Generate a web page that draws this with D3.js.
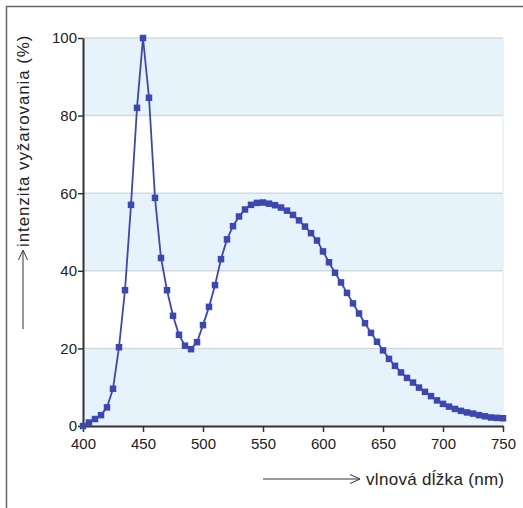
<!DOCTYPE html>
<html>
<head>
<meta charset="utf-8">
<script src="https://cdn.jsdelivr.net/npm/d3@7"></script>
<style>
  body { margin: 0; background: #fff; }
  text { font-family: "Liberation Sans", Arial, sans-serif; }
</style>
</head>
<body>
<div id="chart"></div>
<script>
// wavelength (nm) and relative intensity (%)
const wavelengths = d3.range(400, 751, 5);
const intensity = [
  0, 0.9, 1.8, 2.8, 4.8, 9.6, 20.3, 35, 57, 82,
  100, 84.6, 58.8, 43.3, 35, 28.4, 23.5, 20.7, 19.8, 21.6,
  26, 30.7, 36.3, 43, 48.1, 51.5, 54, 55.8, 57, 57.5,
  57.6, 57.3, 56.9, 56.3, 55.5, 54.4, 53, 51.4, 49.7, 47.8,
  45, 42.2, 39.5, 37, 34.3, 31.6, 29, 26.5, 24, 21.7,
  19.5, 17.3, 15.5, 13.8, 12.4, 11.2, 9.9, 8.8, 7.7, 6.6,
  5.7, 5.0, 4.4, 3.9, 3.5, 3.2, 2.8, 2.5, 2.2, 2.1, 2.0
];
const xTicks = [400, 450, 500, 550, 600, 650, 700, 750];
const yTicks = [0, 20, 40, 60, 80, 100];
const bands = [[0, 20], [40, 60], [80, 100]];

const data = wavelengths.map((w, i) => ({w: w, v: intensity[i]}));

const W = 523, H = 508;
const margin = {top: 38, right: 20, bottom: 82, left: 83};
const width = 503 - margin.left, height = 426 - margin.top;

const root = d3.select("#chart").append("svg")
  .attr("width", W).attr("height", H);

// frame (left and top edges)
root.append("path")
  .attr("d", `M6.5,${H} L6.5,6.5 L${W},6.5`)
  .attr("fill", "none").attr("stroke", "#666").attr("stroke-width", 1.5);

const svg = root.append("g")
  .attr("transform", `translate(${margin.left},${margin.top})`);

const x = d3.scaleLinear().domain([400, 750]).range([0, width]);
const y = d3.scaleLinear().domain([0, 100]).range([height, 0]);

// background bands
svg.selectAll(".band")
  .data(bands)
  .join("rect")
    .attr("x", 0)
    .attr("width", width)
    .attr("y", d => y(d[1]))
    .attr("height", d => y(d[0]) - y(d[1]))
    .attr("fill", "#e6f3fa");

// gridlines
svg.selectAll(".grid")
  .data(yTicks.filter(d => d > 0))
  .join("line")
    .attr("x1", 0).attr("x2", width)
    .attr("y1", d => y(d)).attr("y2", d => y(d))
    .attr("stroke", "#d3d9de").attr("stroke-width", 1.5);

// right edge of bands
svg.append("line")
  .attr("x1", width).attr("x2", width)
  .attr("y1", 0).attr("y2", height)
  .attr("stroke", "#e3e8ec").attr("stroke-width", 1);

// axes
const xAxis = svg.append("g")
  .attr("transform", `translate(0,${height})`)
  .call(d3.axisBottom(x).tickValues(xTicks).tickSize(6).tickSizeOuter(0));
const yAxis = svg.append("g")
  .call(d3.axisLeft(y).tickValues(yTicks).tickSize(5).tickSizeOuter(0));

[xAxis, yAxis].forEach(a => {
  a.select(".domain").attr("stroke", "#333").attr("stroke-width", 2);
  a.selectAll(".tick line").attr("stroke", "#333").attr("stroke-width", 1.5);
  a.selectAll(".tick text").attr("font-size", 15).attr("fill", "#222")
    .attr("font-family", "Liberation Sans, Arial, sans-serif");
});
xAxis.selectAll(".tick text").attr("dy", "0.9em");
yAxis.selectAll(".tick text").attr("x", -6);

// line
svg.append("path")
  .datum(data)
  .attr("fill", "none")
  .attr("stroke", "#3d47ad")
  .attr("stroke-width", 1.8)
  .attr("d", d3.line().x(d => x(d.w)).y(d => y(d.v)));

// square markers
const s = 6.5;
svg.selectAll(".pt")
  .data(data)
  .join("rect")
    .attr("x", d => x(d.w) - s / 2)
    .attr("y", d => y(d.v) - s / 2)
    .attr("width", s).attr("height", s)
    .attr("fill", "#3d47b0");

// axis titles with arrows
const arrow = (g, x1, y1, x2, y2) => {
  g.append("line")
    .attr("x1", x1).attr("y1", y1).attr("x2", x2).attr("y2", y2)
    .attr("stroke", "#333").attr("stroke-width", 1);
};

// x title
arrow(root, 263, 479, 359, 479);
root.append("path")
  .attr("d", "M350,474.5 L360,479 L350,483.5")
  .attr("fill", "none").attr("stroke", "#333").attr("stroke-width", 1);
root.append("text")
  .attr("x", 366).attr("y", 485)
  .attr("font-size", 17).attr("fill", "#222")
  .attr("letter-spacing", 0.3)
  .text("vlnová dĺžka (nm)");

// y title
arrow(root, 23, 329, 23, 251);
root.append("path")
  .attr("d", "M18.5,260 L23,250 L27.5,260")
  .attr("fill", "none").attr("stroke", "#333").attr("stroke-width", 1);
root.append("text")
  .attr("transform", "translate(29,247) rotate(-90)")
  .attr("font-size", 17).attr("fill", "#222")
  .attr("letter-spacing", 0.9)
  .text("intenzita vyžarovania (%)");
</script>
</body>
</html>
